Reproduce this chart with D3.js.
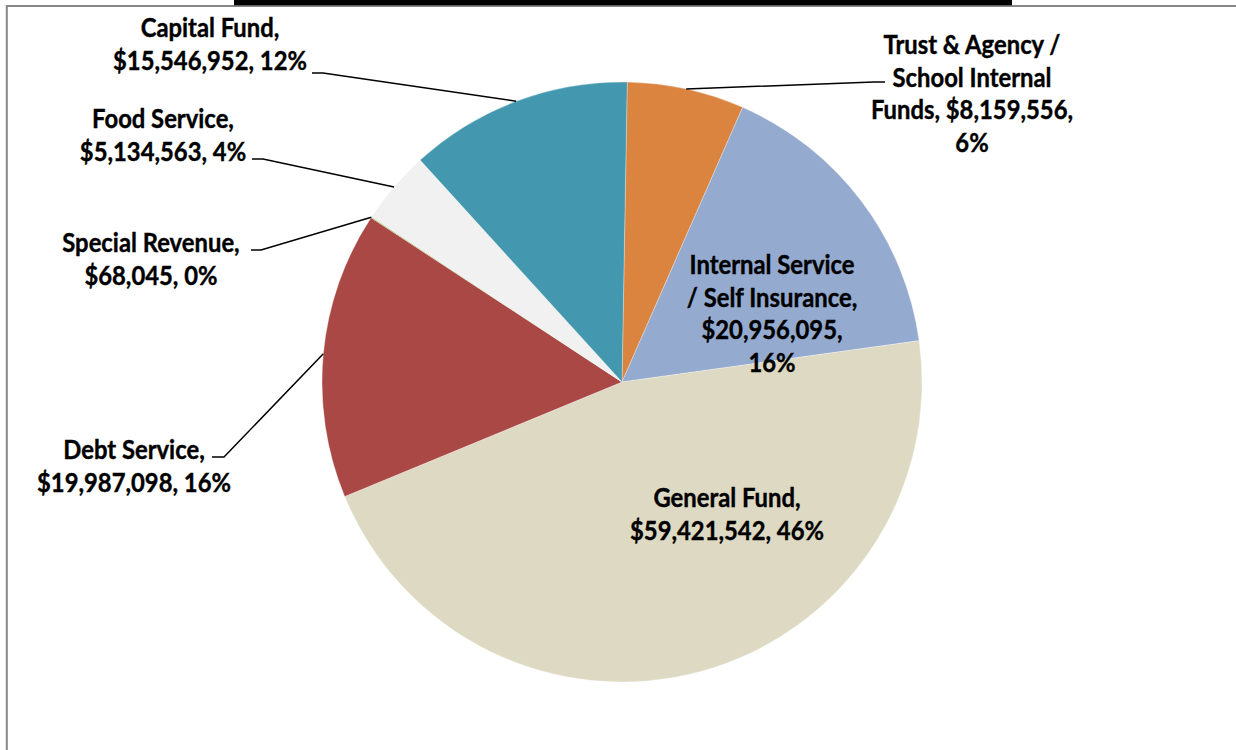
<!DOCTYPE html>
<html>
<head>
<meta charset="utf-8">
<script src="https://cdn.jsdelivr.net/npm/d3@7/dist/d3.min.js"></script>
<style>
  html, body { margin: 0; padding: 0; background: #fff; }
  svg { display: block; }
  text { font-family: Lato, "Open Sans", "DejaVu Sans", sans-serif; font-weight: 700; fill: #000; stroke: #000; stroke-width: 0.4px; }
</style>
</head>
<body>
<svg id="chart" width="1236" height="750"></svg>
<script>
// ---- data ----
const categories = [
  "Trust & Agency / School Internal Funds",
  "Internal Service / Self Insurance",
  "General Fund",
  "Debt Service",
  "Special Revenue",
  "Food Service",
  "Capital Fund"
];
const values = [8159556, 20956095, 59421542, 19987098, 68045, 5134563, 15546952];
const percentLabels = [6, 16, 46, 16, 0, 4, 12];
const colors = ["#DA843F", "#94AACF", "#DDD9C3", "#AA4845", "#9BBB59", "#F1F1F1", "#4398AF"];
// words per label line
const lineWords = [[4, 2, 2, 1], [2, 3, 1, 1], [2, 2], [2, 2], [2, 2], [2, 2], [2, 2]];

// ---- layout ----
const W = 1236, H = 750;
const cx = 622, cy = 382, R = 300;
const startDeg = 1;
const fontSize = 26.5, lineH = 32.5;
// label layout: center x, first baseline y, leader (label end x, elbow x, y) or null if inside
const labelLayout = [
  { x: 972, y: 54,  leader: [885, 874, 82] },
  { x: 772, y: 274, leader: null },
  { x: 727, y: 507, leader: null },
  { x: 134, y: 459, leader: [212, 224, 457] },
  { x: 151, y: 252, leader: [251, 261, 250] },
  { x: 163, y: 128, leader: [252, 263, 159] },
  { x: 210, y: 37,  leader: [312, 323, 73] }
];

const svg = d3.select("#chart");

// frame
svg.append("rect").attr("x", 0).attr("y", 0).attr("width", W).attr("height", H).attr("fill", "#fff");
svg.append("path")
  .attr("d", `M6.8,${H + 5} L6.8,6 L${W + 5},6`)
  .attr("fill", "none").attr("stroke", "#878787").attr("stroke-width", 2);
svg.append("rect").attr("x", 234).attr("y", 0).attr("width", 1012 - 234).attr("height", 5.3).attr("fill", "#000");

const data = categories.map((c, i) => ({ cat: c, value: values[i], pct: percentLabels[i], color: colors[i], i }));

const start = startDeg * Math.PI / 180;
const pie = d3.pie().sort(null).value(d => d.value).startAngle(start).endAngle(start + 2 * Math.PI);
const arcs = pie(data);
const arc = d3.arc().innerRadius(0).outerRadius(R);

const g = svg.append("g").attr("transform", `translate(${cx},${cy})`);
g.selectAll("path.slice").data(arcs).enter().append("path")
  .attr("class", "slice")
  .attr("d", arc)
  .attr("fill", d => d.data.color)
  .attr("stroke", "#ffffff")
  .attr("stroke-opacity", 0.5)
  .attr("stroke-width", 0.6);

const fmt = d3.format("$,");

// measure compression factor so text widths match a Calibri-like metric
const probe = svg.append("text").attr("font-size", fontSize).text(fmt(values[6]) + ", " + percentLabels[6] + "%");
const probeW = probe.node().getComputedTextLength();
probe.remove();
const squeeze = 194 / probeW;

// leaders
arcs.forEach((a, i) => {
  const L = labelLayout[i];
  if (!L.leader) return;
  const mid = (a.startAngle + a.endAngle) / 2;
  const px = cx + R * Math.sin(mid), py = cy - R * Math.cos(mid);
  const [ex, bx, ly] = L.leader;
  svg.append("path")
    .attr("d", `M${ex},${ly} L${bx},${ly} L${px},${py}`)
    .attr("fill", "none").attr("stroke", "#000").attr("stroke-width", 1.5);
});

// labels
arcs.forEach((a, i) => {
  const d = a.data;
  const full = `${d.cat}, ${fmt(d.value)}, ${d.pct}%`;
  const words = full.split(" ");
  const lines = [];
  let k = 0;
  lineWords[i].forEach(n => { lines.push(words.slice(k, k + n).join(" ")); k += n; });
  const L = labelLayout[i];
  lines.forEach((ln, j) => {
    const t = svg.append("text")
      .attr("x", L.x).attr("y", L.y + j * lineH)
      .attr("text-anchor", "middle")
      .attr("font-size", fontSize)
      .text(ln);
    const w = t.node().getComputedTextLength();
    t.attr("textLength", w * squeeze).attr("lengthAdjust", "spacingAndGlyphs");
  });
});
</script>
</body>
</html>
